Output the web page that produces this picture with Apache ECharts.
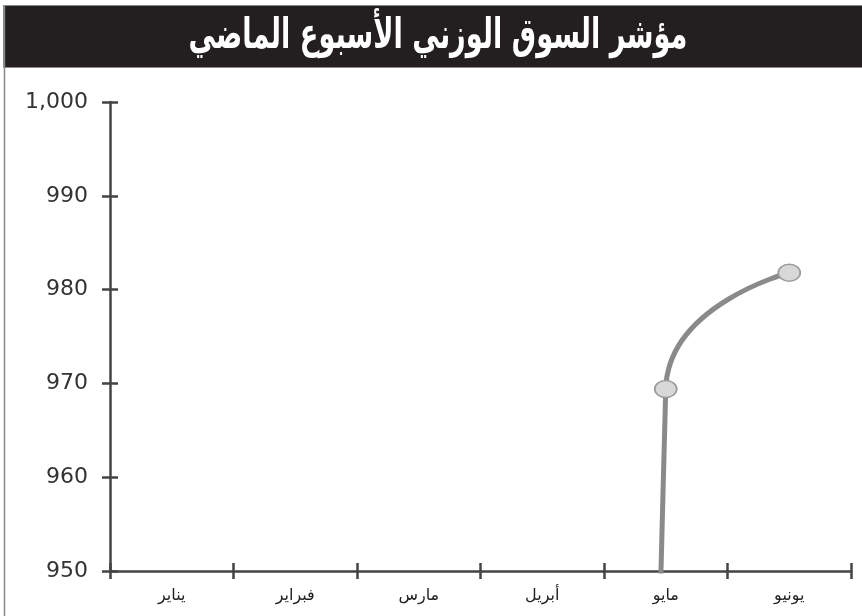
<!DOCTYPE html>
<html>
<head>
<meta charset="utf-8">
<script src="https://cdn.jsdelivr.net/npm/echarts@6/dist/echarts.min.js"></script>
<style>html,body{margin:0;padding:0;background:#fff}#c{width:862px;height:616px}</style>
</head>
<body>
<div id="c"></div>
<script>
var title = 'مؤشر السوق الوزني الأسبوع الماضي';
var months = ['يناير', 'فبراير', 'مارس', 'أبريل', 'مايو', 'يونيو'];
var indexValues = [0, 0, 0, 0, 969.4, 981.8];
var yMin = 950, yMax = 1000, yStep = 10;

var chart = echarts.init(document.getElementById('c'), null, {renderer: 'canvas'});
var axisCol = '#444';
chart.setOption({
  animation: false,
  backgroundColor: '#fff',
  graphic: [
    {type: 'rect', left: 3, top: 5, shape: {width: 862, height: 62}, style: {fill: '#231f20', stroke: '#888', lineWidth: 1}, z: 10},
    {type: 'line', shape: {x1: 4.5, y1: 5, x2: 4.5, y2: 616}, style: {stroke: '#888', lineWidth: 1.5}, z: 10},
    {type: 'text', x: 438, y: 37, scaleX: 0.68, scaleY: 1.05,
      style: {text: title, fill: '#fff', font: 'bold 40px "DejaVu Sans"', textAlign: 'center', textVerticalAlign: 'middle'}, z: 11}
  ],
  grid: {left: 110, right: 11, top: 102, bottom: 45},
  xAxis: [{
    type: 'category', data: months, boundaryGap: true,
    axisLine: {lineStyle: {color: axisCol, width: 2.5}},
    axisTick: {show: true, length: 8, lineStyle: {color: axisCol, width: 2.5}},
    axisLabel: {color: '#222', fontSize: 16, margin: 17, fontFamily: 'DejaVu Sans'}
  }, {
    type: 'category', data: months, boundaryGap: true, position: 'bottom',
    axisLine: {show: false},
    axisTick: {show: true, inside: true, length: 8, lineStyle: {color: axisCol, width: 2.5}},
    axisLabel: {show: false}
  }],
  yAxis: [{
    type: 'value', min: yMin, max: yMax, interval: yStep,
    axisLine: {show: true, lineStyle: {color: axisCol, width: 2.5}},
    axisTick: {show: true, length: 8, lineStyle: {color: axisCol, width: 2.5}},
    splitLine: {show: false},
    axisLabel: {color: '#333', fontSize: 22, margin: 22, fontFamily: 'DejaVu Sans',
      formatter: function (v) { return v.toLocaleString('en-US'); }}
  }, {
    type: 'value', min: yMin, max: yMax, interval: yStep, position: 'left',
    axisLine: {show: false},
    axisTick: {show: true, inside: true, length: 8, lineStyle: {color: axisCol, width: 2.5}},
    splitLine: {show: false},
    axisLabel: {show: false}
  }],
  series: [{
    type: 'line', data: indexValues, smooth: 0.5, clip: true,
    lineStyle: {color: '#8a8a8a', width: 5},
    symbol: 'circle', symbolSize: [22, 17],
    itemStyle: {color: '#d8d8d8', borderColor: '#9a9a9a', borderWidth: 1.5},
    showAllSymbol: true
  }]
});
</script>
</body>
</html>
